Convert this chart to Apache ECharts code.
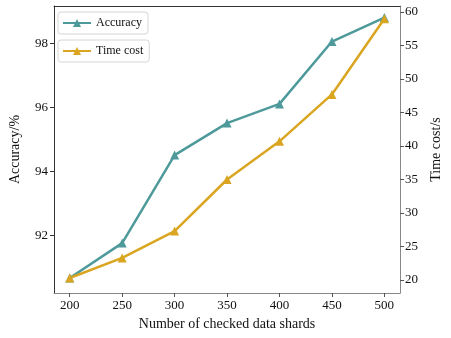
<!DOCTYPE html>
<html>
<head>
<meta charset="utf-8">
<script src="https://cdn.jsdelivr.net/npm/echarts@6/dist/echarts.min.js"></script>
<style>
  html, body { margin: 0; padding: 0; background: #fff; }
  #main { width: 451px; height: 338px; }
</style>
</head>
<body>
<div id="main"></div>
<script>
const shards = [200, 250, 300, 350, 400, 450, 500];
const accuracy = [90.66, 91.75, 94.5, 95.5, 96.1, 98.05, 98.8];
const timeCost = [20.3, 23.3, 27.3, 35.0, 40.7, 47.7, 59.0];
const accTicks = [92, 94, 96, 98];
const timeTicks = [20, 25, 30, 35, 40, 45, 50, 55, 60];

const font = 'Liberation Serif';
const teal = '#4e9a9b';
const gold = '#daa520';

const chart = echarts.init(document.getElementById('main'));

const legendBase = {
  left: 58,
  orient: 'vertical',
  itemWidth: 28,
  itemHeight: 10,
  padding: [5, 6, 5, 4],
  borderColor: '#d6d6d6',
  borderWidth: 1,
  borderRadius: 3,
  textStyle: { fontFamily: font, fontSize: 12, color: '#111' },
};

const option = {
  backgroundColor: '#fff',
  animation: false,
  legend: [
    Object.assign({}, legendBase, { top: 12, data: ['Accuracy'] }),
    Object.assign({}, legendBase, { top: 40, data: ['Time cost'] }),
  ],
  grid: { left: 52, right: 36, top: 6, bottom: 45 },
  xAxis: [
    {
      type: 'value',
      min: 185,
      max: 515,
      name: 'Number of checked data shards',
      nameLocation: 'middle',
      nameGap: 22,
      nameTextStyle: { fontFamily: font, fontSize: 14, color: '#111' },
      axisLine: { lineStyle: { color: '#888', width: 1 } },
      axisTick: { customValues: shards, length: 4, lineStyle: { color: '#555' } },
      axisLabel: { customValues: shards, fontFamily: font, fontSize: 13, color: '#111', margin: 6 },
      splitLine: { show: false },
    },
    {
      type: 'value',
      position: 'top',
      min: 185,
      max: 515,
      axisLine: { show: true, lineStyle: { color: '#333', width: 1 } },
      axisTick: { show: false },
      axisLabel: { show: false },
      splitLine: { show: false },
    },
  ],
  yAxis: [
    {
      type: 'value',
      min: 90.19,
      max: 99.16,
      name: 'Accuracy/%',
      nameLocation: 'middle',
      nameGap: 32,
      nameTextStyle: { fontFamily: font, fontSize: 14, color: '#111' },
      axisLine: { show: true, lineStyle: { color: '#333', width: 1 } },
      axisTick: { show: true, customValues: accTicks, length: 4, lineStyle: { color: '#333' } },
      axisLabel: { customValues: accTicks, fontFamily: font, fontSize: 13, color: '#111', margin: 6 },
      splitLine: { show: false },
    },
    {
      type: 'value',
      position: 'right',
      min: 18.06,
      max: 60.9,
      name: 'Time cost/s',
      nameLocation: 'middle',
      nameGap: 24,
      nameRotate: 90,
      nameTextStyle: { fontFamily: font, fontSize: 14, color: '#111' },
      axisLine: { show: true, lineStyle: { color: '#888', width: 1 } },
      axisTick: { show: true, customValues: timeTicks, length: 4, lineStyle: { color: '#555' } },
      axisLabel: { customValues: timeTicks, fontFamily: font, fontSize: 13, color: '#111', margin: 5 },
      splitLine: { show: false },
    },
  ],
  series: [
    {
      name: 'Accuracy',
      type: 'line',
      yAxisIndex: 0,
      data: shards.map((x, i) => [x, accuracy[i]]),
      symbol: 'triangle',
      symbolSize: 9,
      lineStyle: { color: teal, width: 2.5 },
      itemStyle: { color: teal },
    },
    {
      name: 'Time cost',
      type: 'line',
      yAxisIndex: 1,
      data: shards.map((x, i) => [x, timeCost[i]]),
      symbol: 'triangle',
      symbolSize: 9,
      lineStyle: { color: gold, width: 2.5 },
      itemStyle: { color: gold },
    },
  ],
};

chart.setOption(option);
</script>
</body>
</html>
